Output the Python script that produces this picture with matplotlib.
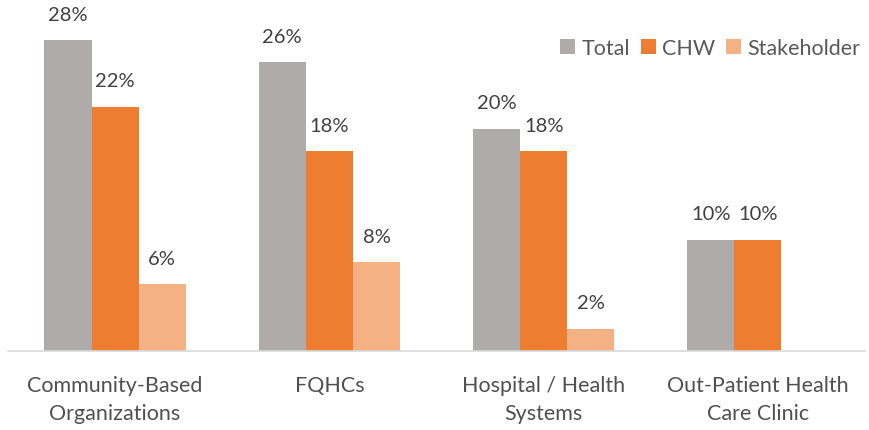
import matplotlib
matplotlib.use("Agg")
import matplotlib.pyplot as plt
import numpy as np

categories = ["Community-Based\nOrganizations", "FQHCs", "Hospital / Health\nSystems", "Out-Patient Health\nCare Clinic"]
series_names = ["Total", "CHW", "Stakeholder"]
total = [28, 26, 20, 10]
chw = [22, 18, 18, 10]
stakeholder = [6, 8, 2, None]
colors = ["#AFABAB", "#ED7D31", "#F4B183"]

plt.rcParams['font.family'] = ['Lato', 'DejaVu Sans']
text_color = "#404040"

fig = plt.figure(figsize=(8.69, 4.31), dpi=100)
ax = fig.add_axes([8/869, (431-352)/431, (865-8)/869, (352-19)/431])

x = np.arange(len(categories))
w = 0.22
for i, (name, vals) in enumerate(zip(series_names, [total, chw, stakeholder])):
    xs = [xi + (i - 1) * w for xi, v in zip(x, vals) if v is not None]
    vs = [v for v in vals if v is not None]
    ax.bar(xs, vs, width=w, color=colors[i], label=name, zorder=2)
    for xx, vv in zip(xs, vs):
        ax.text(xx, vv + 2.35, f"{vv}%", ha="center", va="center", fontsize=14.5,
                color=text_color, clip_on=False)

ax.set_xlim(-0.5, 3.5)
ax.set_ylim(0, 30)
ax.set_yticks([])
ax.set_xticks(x)
ax.set_xticklabels(categories, fontsize=15.5, color="#505050", linespacing=1.5)
ax.tick_params(axis="x", length=0, pad=17)
for s in ["top", "right", "left"]:
    ax.spines[s].set_visible(False)
ax.spines["bottom"].set_color("#D9D9D9")
ax.spines["bottom"].set_linewidth(1.2)

leg = ax.legend(loc="upper right", bbox_to_anchor=(1.005, 0.965), ncol=3, frameon=False,
                fontsize=15.5, handlelength=0.7, handleheight=0.7, handletextpad=0.3,
                columnspacing=0.5, borderaxespad=0)
for t in leg.get_texts():
    t.set_color("#595959")

fig.savefig("out.png", dpi=100)
